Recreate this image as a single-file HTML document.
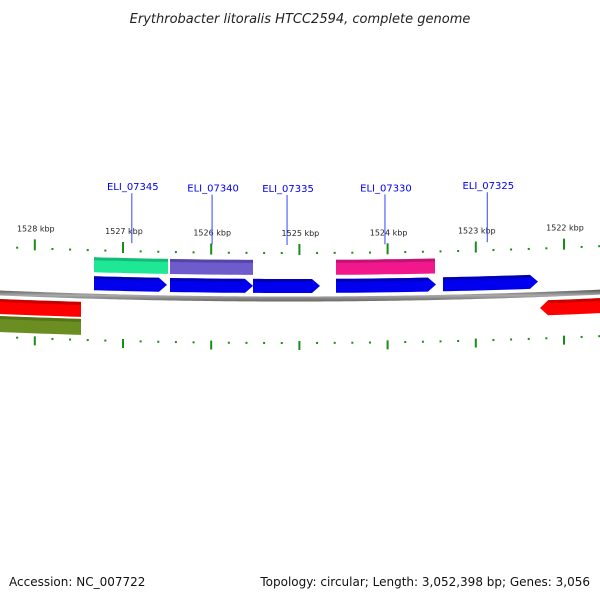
<!DOCTYPE html>
<html><head><meta charset="utf-8"><style>
body{margin:0;background:#fff}
svg{display:block}
text{font-family:"DejaVu Sans","Liberation Sans",sans-serif}
</style></head><body>
<svg id="c" width="600" height="600" viewBox="0 0 600 600">
<defs>
<linearGradient id="bb" x1="0" y1="0" x2="0" y2="1"><stop offset="0" stop-color="#555"/><stop offset="0.5" stop-color="#aaa"/><stop offset="1" stop-color="#666"/></linearGradient>
</defs>
<text x="300" y="23" text-anchor="middle" font-size="13" font-style="italic" fill="#222">Erythrobacter litoralis HTCC2594, complete genome</text>
<g id="ticks"></g>
<g id="feats"></g>
<g id="labels"></g>
<text x="9" y="586" font-size="12" fill="#111">Accession: NC_007722</text>
<text x="590" y="586" font-size="12" fill="#111" text-anchor="end">Topology: circular; Length: 3,052,398 bp; Genes: 3,056</text>
</svg>
<script>
const tickKbp=[1528,1527,1526,1525,1524,1523,1522];
const genes=[
 {name:"green",s:1527.329,e:1526.490,row:"f1",color:"#1ee895",dark:"#10a868",arrow:0},
 {name:"purple",s:1526.467,e:1525.526,row:"f1",color:"#6e5ccc",dark:"#4a3c99",arrow:0},
 {name:"pink",s:1524.585,e:1523.463,row:"f1",color:"#f0188c",dark:"#b01068",arrow:0},
 {name:"cds-07345",s:1527.329,e:1526.501,row:"f2",color:"#0000ee",dark:"#0000a0",arrow:1},
 {name:"cds-07340",s:1526.467,e:1525.526,row:"f2",color:"#0000ee",dark:"#0000a0",arrow:1},
 {name:"cds-07335",s:1525.526,e:1524.766,row:"f2",color:"#0000ee",dark:"#0000a0",arrow:1},
 {name:"cds-07330",s:1524.585,e:1523.451,row:"f2",color:"#0000ee",dark:"#0000a0",arrow:1},
 {name:"cds-07325",s:1523.372,e:1522.295,row:"f2",color:"#0000ee",dark:"#0000a0",arrow:1},
 {name:"red-left",s:1528.6,e:1527.476,row:"r1",color:"#ff0000",dark:"#b00000",arrow:0},
 {name:"olive-left",s:1528.6,e:1527.476,row:"r2",color:"#6b8e23",dark:"#4a6a10",arrow:0},
 {name:"red-right",s:1522.272,e:1521.4,row:"r1",color:"#ff0000",dark:"#b00000",arrow:-1}
];
const geneLabels=["ELI_07345","ELI_07340","ELI_07335","ELI_07330","ELI_07325"];
const geneLabelKbp=[1526.9,1525.99,1525.14,1524.03,1522.87];
const rows={f1:[-39,-24],f2:[-20,-6],r1:[6,21],r2:[23,39]};
const NS="http://www.w3.org/2000/svg";
function X(k){return 123+(1527-k)*88.2;}
function yc(x){return 299-(x-290)*(x-290)/14000;}
function mk(t,a,p){const e=document.createElementNS(NS,t);for(const k in a)e.setAttribute(k,a[k]);p.appendChild(e);return e;}
const svg=document.getElementById('c');
// backbone
let d="";for(let x=-5;x<=605;x+=5){d+=(x==-5?"M":"L")+x+","+(yc(x)-2.5).toFixed(2);}
for(let x=605;x>=-5;x-=5){d+="L"+x+","+(yc(x)+2.5).toFixed(2);}
const bb=mk('path',{d:d+"Z",fill:"url(#bb)"},svg);


svg.insertBefore(bb,document.getElementById('ticks'));
// ticks
const tg=document.getElementById('ticks');
for(let k=1529;k>=1521;k-=0.2){
 const kk=Math.round(k*10)/10,x=X(kk);if(x<5||x>600)continue;
 const major=Math.abs(kk-Math.round(kk))<0.01;
 const y=yc(x);
 const t1=mk('line',{x1:x,x2:x,y1:y+(major?-55:-47),y2:y+(major?-44:-45),stroke:"#1a8c1a","stroke-width":2},tg);
 
 
 const t2=mk('line',{x1:x,x2:x,y1:y+(major?42:43),y2:y+(major?51:45),stroke:"#1a8c1a","stroke-width":2},tg);
 
 
}
tickKbp.forEach(k=>{const x=X(k);const t=mk('text',{x:x+1,y:yc(x)-63,"font-size":8,"text-anchor":"middle",fill:"#222"},tg);t.textContent=k+" kbp";
 
 });
// features
const fg=document.getElementById('feats');
function edge(x1,x2,off){const pts=[];const n=10;for(let i=0;i<=n;i++){const x=x1+(x2-x1)*i/n;pts.push([x,yc(x)+off]);}return pts;}
genes.forEach(g=>{
 let x1=X(g.s),x2=X(g.e);const [a,b]=rows[g.row];const h=8;
 let top,bot,pts;
 if(g.arrow===1){top=edge(x1,x2-h,a);bot=edge(x2-h,x1,b);const m=yc(x2)+(a+b)/2;pts=[...top,[x2,m],...bot];}
 else if(g.arrow===-1){top=edge(x1+h,x2,a);bot=edge(x2,x1+h,b);const m=yc(x1)+(a+b)/2;pts=[[x1,m],...top,...bot];}
 else{top=edge(x1,x2,a);bot=edge(x2,x1,b);pts=[...top,...bot];}
 const p=mk('polygon',{points:pts.map(q=>q[0].toFixed(1)+","+q[1].toFixed(1)).join(" "),fill:g.color},fg);
 
 
 // dark top stripe
 const s=edge(x1+(g.arrow===-1?h:0),x2-(g.arrow===1?h:0),a+1.5);
 const l=mk('polyline',{points:s.map(q=>q[0].toFixed(1)+","+q[1].toFixed(1)).join(" "),fill:"none",stroke:g.dark,"stroke-width":3,opacity:0.7},fg);
 
 
});
// gene labels
const lg=document.getElementById('labels');
geneLabels.forEach((n,i)=>{const x=X(geneLabelKbp[i]);const y=yc(x);
 const ln=mk('line',{x1:x,x2:x,y1:y-104,y2:y-54,stroke:"#3344ff","stroke-width":1},lg);
 
 
 const t=mk('text',{x:x+1,y:y-107,"font-size":10,"text-anchor":"middle",fill:"#0000ee"},lg);t.textContent=n;
 
 
});
</script>
</body></html>
